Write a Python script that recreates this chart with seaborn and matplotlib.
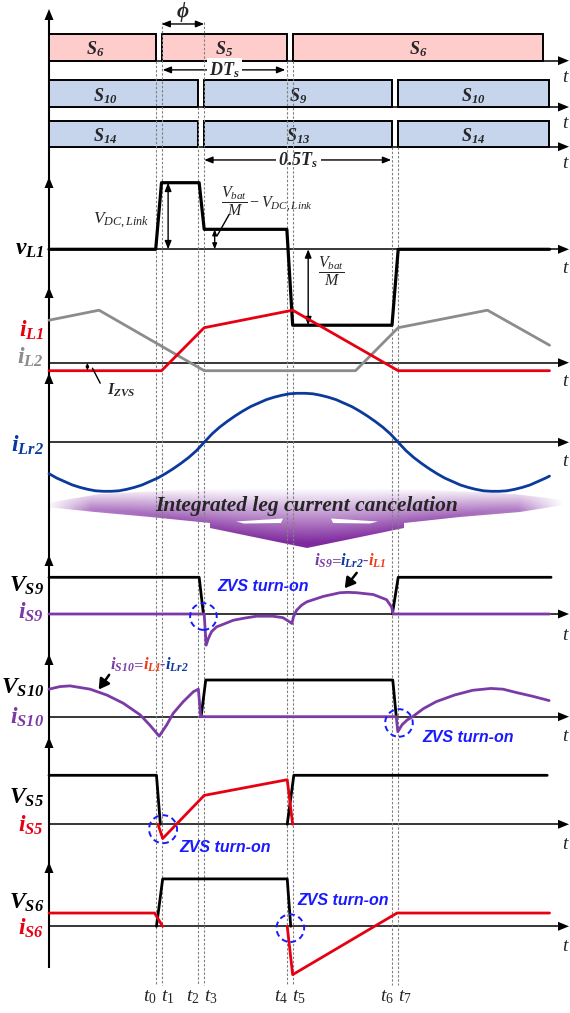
import numpy as np
import pandas as pd
import matplotlib
matplotlib.use("Agg")
import matplotlib.pyplot as plt
import matplotlib.transforms as mtransforms
from matplotlib.patches import Ellipse, Polygon
import seaborn as sns

sns.set_theme(style="white")
plt.rcParams["font.family"] = ["Liberation Serif", "DejaVu Serif"]
plt.rcParams["mathtext.fontset"] = "custom"
plt.rcParams["mathtext.rm"] = "Liberation Serif"
plt.rcParams["mathtext.it"] = "Liberation Serif:italic"
plt.rcParams["mathtext.bf"] = "Liberation Serif:bold:italic"

# ---------------------------------------------------------------- data
# switching instants t0..t7 (time units, Ts = 100)
T_EVENTS = [27.5, 29.0, 38.5, 40.0, 61.3, 62.8, 88.5, 90.0]
T_NAMES = ["t_0", "t_1", "t_2", "t_3", "t_4", "t_5", "t_6", "t_7"]

# gate signals
S_HI_NAMES = ["S_6", "S_5", "S_6"]
S_HI_START = [0.0, 29.0, 62.8]
S_HI_STOP = [27.5, 61.3, 127.3]
S_MID_NAMES = ["S_{10}", "S_9", "S_{10}"]
S_MID_START = [0.0, 40.0, 90.0]
S_MID_STOP = [38.5, 88.5, 128.9]
S_LO_NAMES = ["S_{14}", "S_{13}", "S_{14}"]
S_LO_START = [0.0, 40.0, 90.0]
S_LO_STOP = [38.5, 88.5, 128.9]

# inductor voltage v_L1 (normalised to V_DC,Link)
VL1_T = [0.0, 27.5, 29.0, 38.7, 40.0, 61.3, 62.8, 88.4, 90.0, 129.0]
VL1_V = [0.0, 0.0, 1.0, 1.0, 0.30, 0.30, -1.14, -1.14, 0.0, 0.0]

# inductor currents
IL1_T = [0.0, 29.0, 40.0, 62.8, 90.0, 129.0]
IL1_V = [-0.16, -0.16, 0.70, 1.05, -0.16, -0.16]
IL2_T = [0.0, 12.9, 40.0, 79.0, 90.0, 113.0, 129.0]
IL2_V = [0.85, 1.05, -0.16, -0.16, 0.70, 1.05, 0.35]

# resonant current i_Lr2
ILR2_T = list(range(0, 129, 2)) + [129]
ILR2_V = [-0.64, -0.73, -0.80, -0.87, -0.92, -0.96, -0.99, -1.00, -1.00, -0.99,
          -0.96, -0.92, -0.87, -0.80, -0.73, -0.64, -0.54, -0.43, -0.31, -0.17,
          0.00, 0.17, 0.31, 0.43, 0.54, 0.64, 0.73, 0.80, 0.87, 0.92,
          0.96, 0.99, 1.00, 1.00, 0.99, 0.96, 0.92, 0.87, 0.80, 0.73,
          0.64, 0.54, 0.43, 0.31, 0.17, 0.00, -0.17, -0.31, -0.43, -0.54,
          -0.64, -0.73, -0.80, -0.87, -0.92, -0.96, -0.99, -1.00, -1.00, -0.99,
          -0.96, -0.92, -0.87, -0.80, -0.73,
          -0.69]

# S9
VS9_A_T = [0.0, 38.7, 39.8]
VS9_A_V = [1.0, 1.0, 0.0]
VS9_B_T = [88.5, 90.0, 129.4]
VS9_B_V = [0.0, 1.0, 1.0]
IS9_T = [0.0, 40.0, 40.5, 41.1, 41.9, 43.2, 44.9, 47.5, 50.5, 53.5,
         57.7, 60.3, 62.1, 62.6, 63.0, 63.8, 65.1, 66.4, 70.7, 75.0,
         77.0, 79.3, 83.6, 87.0, 88.3, 88.7, 129.0]
IS9_V = [0.0, 0.0, -0.85, -0.66, -0.48, -0.35, -0.28, -0.17, -0.11, -0.06,
         -0.06, -0.10, -0.22, -0.26, -0.08, 0.10, 0.24, 0.33, 0.48, 0.58,
         0.59, 0.58, 0.53, 0.39, 0.19, 0.0, 0.0]

# S10
VS10_T = [39.2, 40.4, 88.6, 89.5]
VS10_V = [0.0, 1.0, 1.0, 0.0]
IS10_T = [0.0, 2.8, 5.4, 10.6, 14.9, 19.1, 23.5, 26.0, 28.4, 30.3,
          32.0, 34.6, 37.2, 38.5, 39.1, 89.5, 89.9, 91.0, 92.3, 93.7,
          96.5, 99.8, 104.5, 109.2, 113.9, 117.0, 120.4, 124.5, 128.9]
IS10_V = [0.75, 0.82, 0.84, 0.75, 0.59, 0.37, 0.05, -0.23, -0.53, -0.23,
          0.09, 0.41, 0.68, 0.75, 0.0, 0.0, -0.41, -0.22, -0.09, 0.0,
          0.22, 0.41, 0.59, 0.72, 0.77, 0.75, 0.66, 0.56, 0.44]

# S5
VS5_A_T = [0.0, 27.7, 28.7]
VS5_A_V = [1.0, 1.0, 0.0]
VS5_B_T = [61.4, 63.1, 128.4]
VS5_B_V = [0.0, 1.0, 1.0]
IS5_T = [28.1, 29.3, 40.0, 61.4, 62.8]
IS5_V = [0.0, -0.29, 0.59, 0.91, 0.0]

# S6
VS6_T = [27.7, 29.3, 61.4, 62.3]
VS6_V = [0.0, 1.0, 1.0, 0.0]
IS6_A_T = [0.0, 27.2, 29.3]
IS6_A_V = [0.28, 0.28, 0.0]
IS6_B_T = [61.4, 62.8, 89.7, 129.0]
IS6_B_V = [0.0, -1.02, 0.28, 0.28]

# ---------------------------------------------------------------- style
RED = "#E60012"
GRAY = "#8C8C8C"
BLUE = "#0A3A9C"
PURPLE = "#7B3AA5"
ZVS_BLUE = "#1A1AFF"
ORANGE_RED = "#F23A14"
PINK = "#FFCCCC"
LIGHT_BLUE = "#C6D5EB"

W, H = 570, 1013
X0 = 49.0          # pixel column of the time origin
PX_PER_T = 3.88    # pixels per time unit
XMIN = -X0 / PX_PER_T
XMAX = (W - X0) / PX_PER_T
X_TIP = 569.0      # tip of the horizontal axis arrows
X_AXIS_END = 559.0

fig = plt.figure(figsize=(W / 100, H / 100), dpi=100, facecolor="white")

limits = {}


def pixel_axes(z, name):
    ax = fig.add_axes([0, 0, 1, 1], zorder=z, label=name)
    ax.patch.set_alpha(0)
    ax.axis("off")
    limits[ax] = ((0, W), (H, 0))
    return ax


def time_px_axes(z, name):
    ax = fig.add_axes([0, 0, 1, 1], zorder=z, label=name)
    ax.patch.set_alpha(0)
    ax.axis("off")
    limits[ax] = ((XMIN, XMAX), (H, 0))
    return ax


def panel(zero_px, scale, z, name):
    ax = fig.add_axes([0, 0, 1, 1], zorder=z, label=name)
    ax.patch.set_alpha(0)
    ax.axis("off")
    limits[ax] = ((XMIN, XMAX), (-(H - zero_px) / scale, zero_px / scale))
    ax.scale_px = scale
    return ax


def apply_limits():
    for ax, (xl, yl) in limits.items():
        ax.set_xlim(*xl)
        ax.set_ylim(*yl)


def trace(ax, segments, color, lw):
    rows = []
    for k, (ts, vs) in enumerate(segments):
        for t, v in zip(ts, vs):
            rows.append((t, v, k))
    df = pd.DataFrame(rows, columns=["t", "v", "seg"])
    sns.lineplot(data=df, x="t", y="v", units="seg", estimator=None, sort=False,
                 color=color, linewidth=lw, legend=False, ax=ax)


def darrow(ax, p0, p1, ms=10, lw=1.0):
    ax.annotate("", xy=p1, xytext=p0,
                arrowprops=dict(arrowstyle="<|-|>,head_length=0.55,head_width=0.22",
                                color="black", lw=lw, mutation_scale=ms,
                                shrinkA=0, shrinkB=0))


def pointer(ax, p0, p1):
    ax.annotate("", xy=p1, xytext=p0,
                arrowprops=dict(arrowstyle="-|>,head_length=0.6,head_width=0.35",
                                color="black", lw=1.8, mutation_scale=10,
                                shrinkA=0, shrinkB=0))


def zvs_mark(ax, centre, r_px, text_xy):
    ax.add_patch(Ellipse(centre, width=2 * r_px / PX_PER_T, height=2 * r_px / ax.scale_px,
                         fill=False, edgecolor=ZVS_BLUE, lw=1.4, ls=(0, (3, 2)), zorder=5))
    ax.text(text_xy[0], text_xy[1], "ZVS turn-on", color=ZVS_BLUE, fontsize=11.5,
            family=["Liberation Sans", "DejaVu Sans"], fontweight="bold", fontstyle="italic",
            ha="left", va="center")


def chain_text(ax, x, y, pieces, size):
    renderer = fig.canvas.get_renderer()
    dx = 0.0
    for s, c in pieces:
        tr = mtransforms.offset_copy(ax.transData, fig=fig, x=dx, y=0, units="dots")
        txt = ax.text(x, y, s, color=c, fontsize=size, ha="left", va="baseline",
                      transform=tr, fontweight="bold", fontstyle="italic")
        w = txt.get_window_extent(renderer=renderer).width
        dx += w - (1.5 if s.startswith("$") else 0.0)


# ---------------------------------------------------------------- layers
back = pixel_axes(0, "back")

# purple "current cancelation" banner
bx0, bx1, by0, by1 = 45, 565, 484, 550
xs = np.linspace(bx0, bx1, 520)
ys = np.linspace(by0, by1, 132)
XX, YY = np.meshgrid(xs, ys)
span = 20 + 35 * np.exp(-((XX - 307) / 120) ** 2)
alpha = np.clip((YY - 488) / span, 0, 1) * (0.55 + 0.45 * np.exp(-((XX - 307) / 150) ** 2))
alpha *= np.clip((XX - 46) / 45, 0, 1) * np.clip((564 - XX) / 45, 0, 1)
rgba = np.zeros(XX.shape + (4,))
rgba[..., 0], rgba[..., 1], rgba[..., 2] = 0.50, 0.16, 0.62
rgba[..., 3] = alpha
im = back.imshow(rgba, extent=(bx0, bx1, by1, by0), origin="upper", aspect="auto",
                 interpolation="bilinear", zorder=0)
outline = Polygon([(46, 503), (100, 494), (200, 489), (307, 487), (414, 489), (514, 494),
                   (564, 500), (564, 505), (520, 512), (460, 517), (404, 523), (404, 528),
                   (307, 548), (210, 528), (210, 523), (150, 517), (95, 512), (46, 507)],
                  closed=True, facecolor="none", edgecolor="none")
back.add_patch(outline)
im.set_clip_path(outline)
for notch in ([(236, 521.5), (283, 518.5), (281, 523), (244, 523.5)],
              [(378, 521.5), (331, 518.5), (333, 523), (370, 523.5)]):
    back.add_patch(Polygon(notch, closed=True, facecolor="white", edgecolor="none", zorder=1))

# axis frame: one long vertical axis, a horizontal axis per trace
AXIS_ROWS = [60.7, 107.0, 146.7, 249.3, 362.7, 442.3, 614.0, 716.7, 824.3, 926.3]
T_LABEL_DROP = [16.5, 16.5, 16.5, 19, 19, 19, 21, 20, 20, 20]
V_ARROW_TIPS = [9, 177, 287, 373, 555, 654, 737, 862]
back.plot([X0, X0], [14, 968], color="black", lw=1.5, solid_capstyle="butt")
for tip in V_ARROW_TIPS:
    back.add_patch(Polygon([(X0, tip), (X0 - 4.5, tip + 11), (X0 + 4.5, tip + 11)],
                           closed=True, color="black", lw=0))
for y, drop in zip(AXIS_ROWS, T_LABEL_DROP):
    back.plot([X0, X_AXIS_END], [y, y], color="black", lw=1.1)
    back.add_patch(Polygon([(X_TIP, y), (X_TIP - 11, y - 4.5), (X_TIP - 11, y + 4.5)],
                           closed=True, color="black", lw=0))
    back.text(565, y + drop, "t", fontsize=14, fontstyle="italic", ha="center", va="center")

# gate rows
g1 = panel(60.7, 27.0, 0.5, "g1")
g2 = panel(107.0, 27.0, 0.5, "g2")
g3 = panel(146.7, 26.0, 0.5, "g3")
GATE_LABEL_T = [[11.9, None, None], [14.4, None, None], [14.4, None, None]]
for ax, names, starts, stops, fill, lab_t in (
        (g1, S_HI_NAMES, S_HI_START, S_HI_STOP, PINK, GATE_LABEL_T[0]),
        (g2, S_MID_NAMES, S_MID_START, S_MID_STOP, LIGHT_BLUE, GATE_LABEL_T[1]),
        (g3, S_LO_NAMES, S_LO_START, S_LO_STOP, LIGHT_BLUE, GATE_LABEL_T[2])):
    widths = [b - a for a, b in zip(starts, stops)]
    ax.bar(starts, [1.0] * len(starts), width=widths, align="edge", color=fill,
           edgecolor="black", linewidth=1.4, zorder=1)
    for name, a, b, lt in zip(names, starts, stops, lab_t):
        xc = lt if lt is not None else (a + b) / 2
        ax.text(xc, 0.42, r"$\mathbf{%s}$" % name, fontsize=13, ha="center", va="center", zorder=3)

# phase shift, duty and half-period markers
darrow(g1, (T_EVENTS[1], 1.36), (T_EVENTS[3], 1.36), ms=9)
g1.text((T_EVENTS[1] + T_EVENTS[3]) / 2, 1.80, "ϕ", fontsize=15, fontweight="bold",
        fontstyle="italic", ha="center", va="center",
        family=["Liberation Serif", "DejaVu Serif"])
darrow(g1, (T_EVENTS[1] + 0.3, -0.34), (T_EVENTS[4] - 0.4, -0.34), ms=9)
g1.text((T_EVENTS[1] + T_EVENTS[4]) / 2, -0.36, r"$\mathbf{DT_s}$", fontsize=13,
        ha="center", va="center", zorder=4,
        bbox=dict(facecolor="white", edgecolor="none", pad=1.5))
darrow(g3, (T_EVENTS[3], -0.51), (T_EVENTS[6] - 0.3, -0.51), ms=9)
g3.text((T_EVENTS[3] + T_EVENTS[6]) / 2, -0.53, r"$\mathbf{0.5T_s}$", fontsize=13,
        ha="center", va="center", zorder=4,
        bbox=dict(facecolor="white", edgecolor="none", pad=1.5))

# dashed time markers and their labels
marks = time_px_axes(0.7, "marks")
DASH_TOP = [60.7, 22, 107, 22, 60.7, 60.7, 146.7, 146.7]
marks.vlines(T_EVENTS, DASH_TOP, [985] * len(T_EVENTS), colors="#808080",
             linestyles=(0, (2.2, 1.6)), lw=0.8)
for k, (t, name) in enumerate(zip(T_EVENTS, T_NAMES)):
    off = -1.5 if k % 2 == 0 else 1.6
    marks.text(t + off, 997, r"$\mathit{%s}$" % name, fontsize=14, ha="center", va="center")

# ---- v_L1
vl = panel(249.3, 66.6, 1, "vl1")
trace(vl, [(VL1_T, VL1_V)], "black", 2.3)
darrow(vl, (30.7, 0.0), (30.7, 1.0), ms=9)
vl.text(18.5, 0.44, r"$V_{DC,Link}$", fontsize=12.5, ha="center", va="center")
vl.text(56.2, 0.72, r"$\dfrac{V_{bat}}{M}-V_{DC,Link}$", fontsize=11.5, ha="center", va="center")
darrow(vl, (42.7, 0.0), (42.7, 0.30), ms=6)
vl.plot([43.3, 46.4], [0.20, 0.52], color="black", lw=1.0)
darrow(vl, (66.8, 0.0), (66.8, -1.14), ms=9)
vl.text(72.7, -0.33, r"$\dfrac{V_{bat}}{M}$", fontsize=11.5, ha="center", va="center")

# ---- i_L1 / i_L2
il = panel(362.7, 50.0, 1, "il")
trace(il, [(IL2_T, IL2_V)], GRAY, 2.0)
trace(il, [(IL1_T, IL1_V)], RED, 2.0)
darrow(il, (9.9, 0.0), (9.9, -0.16), ms=4, lw=0.8)
il.plot([11.2, 13.2], [-0.11, -0.41], color="black", lw=1.0)
il.text(18.6, -0.55, r"$\mathbf{I_{ZVS}}$", fontsize=11.5, ha="center", va="center")

# ---- i_Lr2
ir = panel(442.3, 49.0, 1, "ilr2")
trace(ir, [(ILR2_T, ILR2_V)], BLUE, 2.0)

# ---- S9
p9 = panel(614.0, 36.7, 1, "s9")
trace(p9, [(VS9_A_T, VS9_A_V), (VS9_B_T, VS9_B_V)], "black", 2.0)
trace(p9, [(IS9_T, IS9_V)], PURPLE, 2.0)
zvs_mark(p9, (39.8, -0.07), 13.3, (43.4, 0.75))
chain_text(p9, 68.2, 1.31, [(r"$\mathbf{i_{S9}}$", PURPLE), ("=", PURPLE),
                            (r"$\mathbf{i_{Lr2}}$", BLUE), ("-", PURPLE),
                            (r"$\mathbf{i_{L1}}$", ORANGE_RED)], 12)
pointer(p9, (79.3, 1.12), (76.2, 0.70))

# ---- S10
p10 = panel(716.7, 36.7, 1, "s10")
trace(p10, [(VS10_T, VS10_V)], "black", 2.0)
trace(p10, [(IS10_T, IS10_V)], PURPLE, 2.0)
zvs_mark(p10, (90.2, -0.17), 13.8, (96.3, -0.57))
chain_text(p10, 15.8, 1.27, [(r"$\mathbf{i_{S10}}$", PURPLE), ("=", PURPLE),
                             (r"$\mathbf{i_{L1}}$", ORANGE_RED), ("-", PURPLE),
                             (r"$\mathbf{i_{Lr2}}$", BLUE)], 12)
pointer(p10, (15.5, 1.14), (12.8, 0.74))

# ---- S5
p5 = panel(824.3, 49.0, 1, "s5")
trace(p5, [(VS5_A_T, VS5_A_V), (VS5_B_T, VS5_B_V)], "black", 2.0)
trace(p5, [(IS5_T, IS5_V)], RED, 2.0)
zvs_mark(p5, (29.4, -0.10), 14.0, (33.6, -0.48))

# ---- S6
p6 = panel(926.3, 47.4, 1, "s6")
trace(p6, [(VS6_T, VS6_V)], "black", 2.0)
trace(p6, [(IS6_A_T, IS6_A_V), (IS6_B_T, IS6_B_V)], RED, 2.0)
zvs_mark(p6, (62.2, -0.04), 13.8, (64.0, 0.54))

# ---------------------------------------------------------------- labels
front = pixel_axes(2, "front")
LEFT_LABELS = [
    (r"$\mathbf{v_{L1}}$", "black", 249),
    (r"$\mathbf{i_{L1}}$", RED, 330),
    (r"$\mathbf{i_{L2}}$", GRAY, 357),
    (r"$\mathbf{i_{Lr2}}$", BLUE, 445),
    (r"$\mathbf{V_{S9}}$", "black", 586),
    (r"$\mathbf{i_{S9}}$", PURPLE, 612),
    (r"$\mathbf{V_{S10}}$", "black", 688),
    (r"$\mathbf{i_{S10}}$", PURPLE, 717),
    (r"$\mathbf{V_{S5}}$", "black", 798),
    (r"$\mathbf{i_{S5}}$", RED, 825),
    (r"$\mathbf{V_{S6}}$", "black", 903),
    (r"$\mathbf{i_{S6}}$", RED, 928),
]
for s, c, y in LEFT_LABELS:
    front.text(44, y, s, color=c, fontsize=17, ha="right", va="center")

front.text(307, 506, "Integrated leg current cancelation", fontsize=15.5, fontweight="bold",
           fontstyle="italic", ha="center", va="center")

apply_limits()
fig.savefig("out.png", dpi=100, facecolor="white")
